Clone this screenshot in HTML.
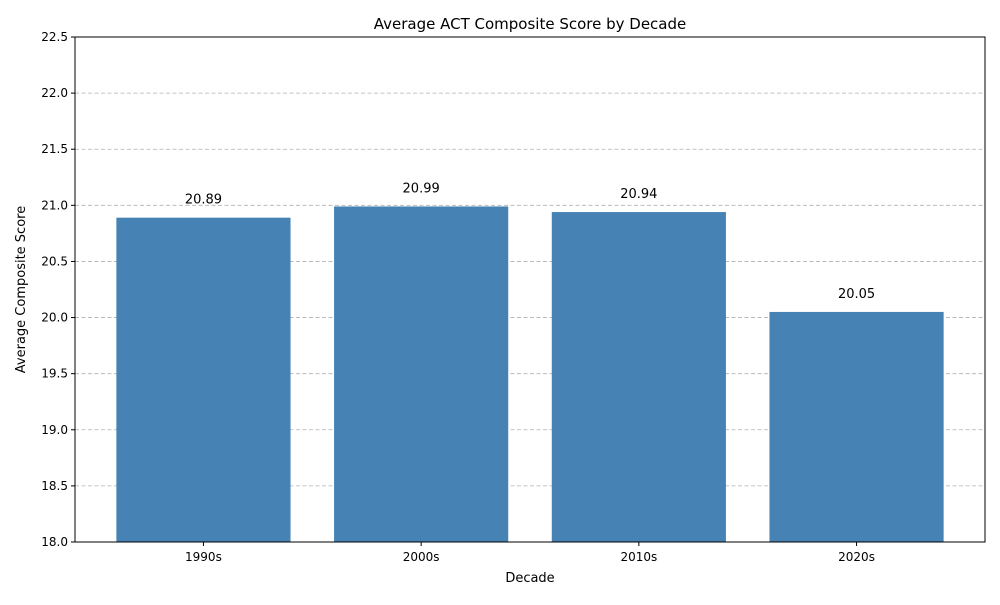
<!DOCTYPE html>
<html><head><meta charset="utf-8"><style>
body{margin:0;background:#fff;font-family:"Liberation Sans","DejaVu Sans",sans-serif;}
</style></head><body>
<svg id="chart" width="1000" height="600" xmlns="http://www.w3.org/2000/svg" font-family="DejaVu Sans, Liberation Sans, sans-serif">
<rect width="1000" height="600" fill="#fff"/>
<g id="grid"></g><g id="bars"></g><g id="labels"></g><g id="axes"></g>
</svg>
<script>
const categories = ["1990s","2000s","2010s","2020s"];
const values = [20.89, 20.99, 20.94, 20.05];
const valueLabels = ["20.89","20.99","20.94","20.05"];
const yTicks = [18.0,18.5,19.0,19.5,20.0,20.5,21.0,21.5,22.0,22.5];
const yMin = 18, yMax = 22.5;
const L=75,R=985,T=37,B=542;
const xLo=-0.59, xHi=3.59;
const xs = i => L + (i - xLo) / (xHi - xLo) * (R - L);
const ys = v => B - (v - yMin) / (yMax - yMin) * (B - T);
const NS="http://www.w3.org/2000/svg";
function mk(tag, attrs, parent, text){const e=document.createElementNS(NS,tag);for(const k in attrs)e.setAttribute(k,attrs[k]);if(text!==undefined)e.textContent=text;document.getElementById(parent).appendChild(e);return e;}
const bw = 0.8*(R-L)/(xHi-xLo);
yTicks.forEach(t=>{
  if(t>yMin && t<yMax){
    const g=mk("line",{x1:L,x2:R,y1:ys(t),y2:ys(t),stroke:"#b0b0b0","stroke-dasharray":"4,2.5","stroke-width":0.8},"grid");
    
    
  }
  const tk=mk("line",{x1:L-4,x2:L,y1:ys(t),y2:ys(t),stroke:"#000"},"axes");
  
  
  const tl=mk("text",{x:L-7,y:ys(t)+4,"text-anchor":"end","font-size":12},"axes",t.toFixed(1));
  
  
});
categories.forEach((c,i)=>{
  const cx=xs(i);
  const b=mk("rect",{x:cx-bw/2,y:ys(values[i]),width:bw,height:B-ys(values[i]),fill:"#4682b4"},"bars");
  
  
  const v=mk("text",{x:cx,y:ys(values[i])-14,"text-anchor":"middle","font-size":13},"labels",valueLabels[i]);
  
  
  const tk=mk("line",{x1:cx,x2:cx,y1:B,y2:B+4,stroke:"#000"},"axes");
  
  
  const tl=mk("text",{x:cx,y:B+19,"text-anchor":"middle","font-size":12},"axes",c);
  
  
});
const fr=mk("rect",{x:L,y:T,width:R-L,height:B-T,fill:"none",stroke:"#000","stroke-width":1},"axes");


const ti=mk("text",{x:(L+R)/2,y:29,"text-anchor":"middle","font-size":15},"axes","Average ACT Composite Score by Decade");


const xt=mk("text",{x:(L+R)/2,y:582,"text-anchor":"middle","font-size":13},"axes","Decade");


const yt=mk("text",{x:0,y:0,"text-anchor":"middle","font-size":13,transform:`translate(25,${(T+B)/2}) rotate(-90)`},"axes","Average Composite Score");


</script>
</body></html>
